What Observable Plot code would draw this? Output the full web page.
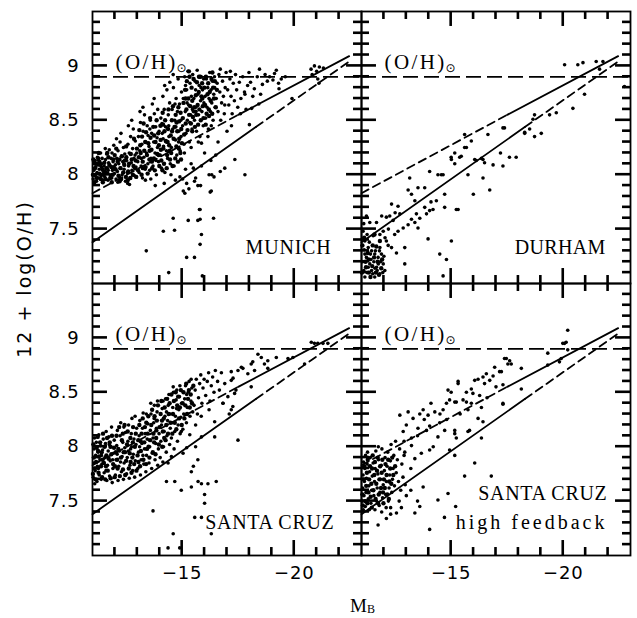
<!DOCTYPE html>
<html><head><meta charset="utf-8">
<script src="https://cdn.jsdelivr.net/npm/d3@7"></script>
<script src="https://cdn.jsdelivr.net/npm/@observablehq/plot@0.6"></script>
<style>
body{margin:0;background:#fff}
#wrap{position:relative;width:637px;height:618px;overflow:hidden}
#ytitle{position:absolute;left:24px;top:279px;transform:translate(-50%,-50%) rotate(-90deg);font-family:"DejaVu Sans";font-size:19px;letter-spacing:2px;white-space:nowrap;line-height:1}
#xtitle{position:absolute;left:350px;top:596px;font-family:"Liberation Serif";font-size:19px;line-height:1;white-space:nowrap}
#xtitle span{font-size:12px;position:relative;top:1px}
</style></head>
<body>
<div id="wrap"></div>
<script>
// ---- axis ticks / labels
const xLabelTicks = [-15, -20];
const xMinorTicks = [-12, -13, -14, -16, -17, -18, -19, -21, -22];
const yLabelTicks = [7.5, 8, 8.5, 9];
const yMinorTicks = [7.1,7.2,7.3,7.4,7.6,7.7,7.8,7.9,8.1,8.2,8.3,8.4,8.6,8.7,8.8,8.9,9.1,9.2,9.3,9.4];
const xDomain = [-11, -23];
const yDomain = [7, 9.5];
const yTitle = "12 + log(O/H)";
const solarLabel = "(O/H)";
const solarOH = 8.9;

// ---- observed relations [M_B, 12+log(O/H)]: dwarf relation (solid, then dashed extrapolation)
const dwarfRelSolid = [[-11, 7.38], [-18.3, 8.44]];
const dwarfRelDashed = [[-18.3, 8.44], [-22.45, 9.04]];
// bright-galaxy relation (dashed extrapolation, then solid)
const brightRelDashed = [[-11, 7.83], [-17.5, 8.55]];
const brightRelSolid = [[-17.5, 8.55], [-22.45, 9.09]];

// ---- model galaxies [M_B, 12+log(O/H)]
const munich = [
[-11.03,7.96],[-11.06,8.04],[-11.08,8.1],[-11.1,7.99],[-11.12,8.13],[-11.15,8.07],[-11.18,7.94],[-11.2,8.02],[-11.22,8.16],[-11.25,8.09],[-11.28,7.97],[-11.3,8.05],[-11.33,8.12],[-11.36,8.2],[-11.38,7.99],[-11.4,8.07],[-11.43,8.15],[-11.46,7.95],[-11.48,8.03],[-11.05,8.12],[-11.13,8.0],[-11.27,8.13],[-11.41,8.1],
[-11.52,8.08],[-11.55,7.98],[-11.58,8.14],[-11.6,8.02],[-11.63,8.19],[-11.66,8.06],[-11.69,7.95],[-11.72,8.11],[-11.75,8.23],[-11.78,8.0],[-11.8,8.08],[-11.83,8.15],[-11.86,7.97],[-11.89,8.04],[-11.92,8.12],[-11.95,8.27],[-11.98,8.01],[-11.57,8.24],[-11.7,8.04],[-11.87,8.2],
[-12.02,8.09],[-12.05,7.96],[-12.08,8.15],[-12.11,8.03],[-12.14,8.22],[-12.17,8.1],[-12.2,7.98],[-12.23,8.3],[-12.26,8.06],[-12.29,8.17],[-12.32,8.0],[-12.35,8.12],[-12.38,8.25],[-12.41,8.05],[-12.44,8.19],[-12.47,7.94],[-12.07,8.33],[-12.27,8.38],[-12.4,8.1],[-12.13,7.93],
[-12.52,8.13],[-12.55,8.02],[-12.58,8.28],[-12.61,8.08],[-12.64,8.2],[-12.67,7.97],[-12.7,8.35],[-12.73,8.11],[-12.76,8.04],[-12.79,8.24],[-12.82,8.42],[-12.85,8.15],[-12.88,7.99],[-12.91,8.31],[-12.94,8.07],[-12.97,8.2],[-12.6,8.45],[-12.75,8.5],[-12.9,8.18],[-12.57,7.92],
[-13.02,8.12],[-13.05,8.35],[-13.08,8.02],[-13.11,8.22],[-13.14,8.48],[-13.17,8.08],[-13.2,8.28],[-13.23,7.97],[-13.26,8.4],[-13.29,8.16],[-13.32,8.55],[-13.35,8.05],[-13.38,8.3],[-13.41,8.2],[-13.44,8.45],[-13.47,8.1],[-13.12,8.58],[-13.25,8.62],[-13.36,7.95],[-13.48,8.36],[-13.18,8.15],
[-13.52,8.26],[-13.55,8.04],[-13.58,8.5],[-13.61,8.15],[-13.64,8.38],[-13.67,8.65],[-13.7,8.08],[-13.73,8.3],[-13.76,8.56],[-13.79,8.2],[-13.82,8.44],[-13.85,8.0],[-13.88,8.34],[-13.91,8.6],[-13.94,8.12],[-13.97,8.4],[-13.6,7.96],[-13.75,8.7],[-13.9,8.25],[-13.56,8.42],[-13.83,8.13],
[-14.02,8.18],[-14.05,8.52],[-14.08,8.06],[-14.11,8.38],[-14.14,8.72],[-14.17,8.26],[-14.2,8.6],[-14.23,8.02],[-14.26,8.44],[-14.29,8.3],[-14.32,8.78],[-14.35,8.15],[-14.38,8.55],[-14.41,8.35],[-14.44,8.66],[-14.47,8.1],[-14.1,8.47],[-14.22,8.82],[-14.3,8.22],[-14.4,8.45],[-14.45,8.85],[-14.15,8.33],
[-14.52,8.25],[-14.55,8.6],[-14.58,8.42],[-14.61,8.8],[-14.64,8.08],[-14.67,8.5],[-14.7,8.32],[-14.73,8.7],[-14.76,8.18],[-14.79,8.58],[-14.82,8.88],[-14.85,8.4],[-14.88,8.65],[-14.91,8.22],[-14.94,8.5],[-14.97,8.76],[-14.6,8.92],[-14.72,8.44],[-14.84,8.3],[-14.95,8.35],[-14.68,8.65],
[-15.02,8.45],[-15.05,8.7],[-15.08,8.28],[-15.11,8.9],[-15.14,8.58],[-15.17,8.38],[-15.2,8.78],[-15.23,8.5],[-15.26,8.95],[-15.29,8.64],[-15.32,8.3],[-15.35,8.84],[-15.38,8.55],[-15.41,8.72],[-15.44,8.42],[-15.47,8.92],[-15.1,8.2],[-15.22,8.66],[-15.34,8.48],[-15.46,8.6],[-15.15,8.82],[-15.4,8.25],
[-15.52,8.7],[-15.55,8.5],[-15.58,8.86],[-15.61,8.62],[-15.64,8.4],[-15.67,8.96],[-15.7,8.74],[-15.73,8.55],[-15.76,8.82],[-15.79,8.35],[-15.82,8.68],[-15.85,8.9],[-15.88,8.58],[-15.91,8.78],[-15.94,8.45],[-15.97,8.66],[-15.6,8.78],[-15.72,8.3],[-15.84,8.8],[-15.96,8.88],[-15.5,8.58],
[-16.02,8.72],[-16.05,8.52],[-16.08,8.88],[-16.11,8.62],[-16.14,8.8],[-16.17,8.42],[-16.2,8.7],[-16.23,8.94],[-16.26,8.58],[-16.29,8.78],[-16.32,8.66],[-16.35,8.86],[-16.38,8.5],[-16.41,8.74],[-16.44,8.9],[-16.47,8.62],[-16.15,8.35],[-16.3,8.45],[-16.45,8.8],
[-16.52,8.7],[-16.56,8.84],[-16.6,8.58],[-16.64,8.92],[-16.68,8.76],[-16.72,8.5],[-16.76,8.66],[-16.8,8.86],[-16.84,8.72],[-16.88,8.56],[-16.92,8.8],[-16.96,8.94],[-16.7,8.97],[-16.9,8.64],
[-17.03,8.78],[-17.08,8.64],[-17.13,8.88],[-17.18,8.72],[-17.23,8.56],[-17.28,8.84],[-17.33,8.68],[-17.38,8.92],[-17.43,8.78],[-17.48,8.62],[-17.15,8.95],
[-17.55,8.85],[-17.62,8.7],[-17.7,8.9],[-17.78,8.76],[-17.85,8.6],[-17.92,8.82],[-17.98,8.94],
[-18.05,8.85],[-18.15,8.72],[-18.22,8.79],[-18.35,8.9],[-18.42,8.65],[-18.5,8.74],[-18.58,8.83],[-18.7,8.92],[-18.8,8.86],[-19.05,8.87],[-19.12,8.93],[-19.3,8.84],[-19.32,8.79],[-19.42,8.88],[-18.45,8.97],[-18.0,8.46],[-18.1,8.61],[-17.8,8.74],[-17.6,8.56],[-19.6,8.9],[-19.9,8.7],[-18.9,8.9],[-19.2,8.96],
[-20.75,8.97],[-20.8,8.92],[-21.0,8.95],[-21.12,8.99],[-21.3,8.98],[-21.05,8.88],[-21.1,8.84],[-20.9,9.0],
[-15.05,7.85],[-15.2,7.92],[-15.55,7.94],[-15.7,7.9],[-16.3,7.85],[-16.32,8.0],[-16.7,8.03],[-17.35,8.14],[-17.8,8.0],[-16.9,8.06],[-15.86,8.08],[-16.28,8.13],[-15.86,8.29],[-15.5,8.06],[-15.6,7.97],[-16.2,8.0],[-16.42,7.98],[-15.82,7.9],[-15.3,7.87],[-15.02,7.96],[-16.25,7.84],[-15.12,7.83],[-15.8,7.68],[-14.9,7.98],[-14.7,7.95],[-15.4,8.1],[-16.0,8.2],[-16.6,8.3],[-17.0,8.4],[-16.5,8.18],[-17.2,8.45],[-14.2,7.92],[-13.8,7.9],[-12.65,7.91],[-14.5,8.0],[-15.15,8.05],
[-13.4,7.3],[-14.16,7.48],[-14.4,7.1],[-14.66,7.49],[-14.6,7.6],[-15.2,7.24],[-15.27,7.58],[-15.55,7.24],[-15.77,7.68],[-15.8,7.59],[-15.86,7.45],[-15.8,7.36],[-15.9,7.07],[-16.4,7.6],[-15.7,7.58]
];
const munichCore = [
[-11.02,8.0],[-11.11,8.06],[-11.19,7.97],[-11.04,8.14],[-11.31,8.01],[-11.26,8.15],[-11.44,8.05],[-11.37,7.96],[-11.53,8.11],[-11.49,8.0],[-11.62,8.06],[-11.58,7.96],[-11.71,8.16],[-11.67,8.01],[-11.84,8.07],[-11.79,7.97],[-11.93,8.14],[-11.9,8.0],[-12.03,8.05],[-11.99,8.18],[-12.16,7.99],[-12.12,8.12],[-12.24,8.06],[-12.31,8.17],[-12.28,7.96],[-12.42,8.09],[-12.37,8.02],[-12.51,8.16],[-12.49,7.98],[-12.63,8.1],[-12.59,8.03],[-12.71,8.19],[-12.69,7.97],[-12.83,8.08],[-12.8,8.0],[-12.93,8.13],[-12.98,8.24],[-11.15,8.1],[-11.35,8.09],[-11.55,8.03],[-11.75,8.09],[-11.95,8.07],[-12.2,8.14],[-12.45,8.13],[-12.75,8.14],[-12.9,8.06],[-11.08,7.93],[-11.46,7.93],[-11.86,7.93],[-12.21,7.94],[-12.57,7.95],[-12.95,7.98],[-11.28,8.2],[-11.66,8.2],[-12.06,8.24],[-12.5,8.26],[-12.85,8.33],
[-13.03,8.04],[-13.07,8.16],[-13.13,8.27],[-13.09,8.41],[-13.19,8.0],[-13.24,8.12],[-13.21,8.35],[-13.31,8.22],[-13.28,8.47],[-13.37,8.07],[-13.43,8.18],[-13.39,8.39],[-13.49,8.29],[-13.46,8.01],[-13.54,8.14],[-13.59,8.34],[-13.57,8.52],[-13.66,8.06],[-13.63,8.23],[-13.71,8.44],[-13.74,8.15],[-13.81,8.3],[-13.78,8.04],[-13.86,8.5],[-13.89,8.19],[-13.93,8.38],[-13.98,8.08],[-13.96,8.27],[-14.03,8.45],[-14.07,8.13],[-14.04,8.32],[-14.12,8.04],[-14.16,8.24],[-14.13,8.57],[-14.21,8.4],[-14.19,8.1],[-14.27,8.31],[-14.24,8.5],[-14.33,8.18],[-14.31,8.06],[-14.37,8.42],[-14.42,8.27],[-14.39,8.6],[-14.46,8.14],[-14.49,8.36],[-14.54,8.5],[-14.51,8.2],[-14.57,8.08],[-14.62,8.33],[-14.59,8.63],[-14.66,8.44],[-14.69,8.15],[-14.71,8.55],[-14.74,8.26],[-14.78,8.4],[-14.81,8.12],[-14.83,8.62],[-14.87,8.33],[-14.86,8.49],[-14.92,8.2],[-14.93,8.57],[-14.96,8.42],[-14.99,8.29],[-13.15,8.2],[-13.35,8.3],[-13.55,8.22],[-13.75,8.36],[-13.95,8.18],[-14.15,8.46],[-14.35,8.3],[-14.55,8.4],[-14.75,8.48],[-14.95,8.14],[-13.25,8.06],[-13.65,8.12],[-14.05,8.23],[-14.45,8.22],[-14.85,8.24],
[-15.03,8.52],[-15.06,8.66],[-15.09,8.37],[-15.13,8.78],[-15.16,8.47],[-15.19,8.6],[-15.21,8.86],[-15.24,8.41],[-15.27,8.7],[-15.31,8.55],[-15.33,8.9],[-15.36,8.63],[-15.39,8.47],[-15.42,8.8],[-15.45,8.68],[-15.48,8.53],[-15.51,8.88],[-15.54,8.62],[-15.57,8.44],[-15.61,8.73],[-15.63,8.55],[-15.66,8.85],[-15.69,8.64],[-15.71,8.46],[-15.74,8.76],[-15.77,8.6],[-15.81,8.9],[-15.83,8.5],[-15.86,8.72],[-15.89,8.84],[-15.92,8.63],[-15.95,8.52],[-15.99,8.8],[-16.02,8.64],[-16.06,8.9],[-16.09,8.56],[-16.13,8.74],[-16.16,8.84],[-16.19,8.6],[-16.23,8.76],[-16.27,8.68],[-16.31,8.88],[-16.34,8.56],[-16.38,8.8],[-16.42,8.7],[-16.46,8.86],[-16.5,8.62],[-15.15,8.7],[-15.45,8.4],[-15.75,8.9],[-16.05,8.46],[-16.35,8.94],[-15.3,8.95],[-15.6,8.58],[-15.9,8.7],[-16.2,8.54],[-16.55,8.78]
];
const durham = [
[-11.07,7.48],[-11.15,7.39],[-11.3,7.33],[-11.22,7.24],[-11.37,7.18],[-11.45,7.12],[-11.67,7.15],[-11.82,7.09],[-11.59,7.06],[-11.97,7.18],[-11.3,7.15],[-11.15,7.27],[-11.52,7.44],[-11.74,7.24],[-11.89,7.27],[-12.04,7.12],[-11.15,7.06],[-11.4,7.27],[-11.55,7.2],[-11.75,7.18],[-11.12,7.31],[-11.85,7.2],[-11.25,7.1],[-11.5,7.09],[-11.95,7.1],[-11.62,7.3],[-11.05,7.2],[-11.35,7.38],[-11.45,7.3],[-11.7,7.12],[-11.1,7.12],[-11.6,7.14],[-11.8,7.3],[-12.0,7.25],[-11.25,7.45],[-11.42,7.22],
[-11.37,7.56],[-11.67,7.56],[-12.11,7.61],[-12.26,7.62],[-12.34,7.73],[-12.63,7.71],[-12.71,7.64],[-12.41,7.58],[-11.82,7.45],[-11.97,7.48],[-12.11,7.39],[-12.48,7.45],[-12.63,7.48],[-12.86,7.51],[-12.93,7.33],[-12.34,7.33],[-12.56,7.28],[-12.93,7.18],[-11.59,7.27],[-11.82,7.33],[-12.19,7.35],[-11.22,7.62],[-11.1,7.55],[-12.2,7.5],[-11.9,7.62],[-12.5,7.65],[-12.05,7.42],
[-13.08,7.86],[-13.23,7.82],[-13.15,7.97],[-13.52,7.88],[-13.82,7.88],[-13.38,7.76],[-14.04,8.03],[-14.41,8.0],[-14.64,8.0],[-13.9,7.64],[-14.19,7.68],[-14.34,7.76],[-14.71,7.7],[-15.23,7.68],[-14.04,7.67],[-13.82,7.7],[-13.45,7.64],[-13.23,7.59],[-13.97,7.41],[-13.52,7.51],[-13.08,7.54],[-13.38,7.56],[-14.49,7.27],[-14.79,7.22],[-15.01,7.39],[-14.64,7.07],[-13.6,7.6],[-14.1,7.75],
[-15.01,8.14],[-15.38,8.16],[-15.6,8.25],[-15.16,8.2],[-15.9,8.31],[-15.75,8.0],[-16.05,8.14],[-16.49,8.11],[-16.87,8.09],[-16.64,8.37],[-16.35,8.15],[-16.72,7.86],[-15.99,7.82],[-17.31,8.43],[-17.6,8.16],[-17.9,8.16],[-17.31,8.08],[-18.28,8.38],[-18.65,8.51],[-18.72,8.55],[-18.5,8.42],[-19.02,8.38],[-18.72,8.35],[-19.39,8.55],[-19.69,8.57],[-20.43,8.61],[-20.95,8.74],[-20.06,9.01],[-20.65,9.01],[-20.88,9.03],[-21.47,9.04],[-21.77,9.04],[-22.73,8.81],[-21.62,8.97],[-15.6,8.37],[-14.56,8.0],[-14.71,7.82],[-15.31,7.68],[-15.0,8.16],[-15.45,8.17],[-15.16,8.1],[-16.12,8.13],[-16.42,8.14],[-16.42,7.97],[-17.2,8.2],[-17.38,8.43],[-18.28,8.39],[-15.68,8.25]
];
const durhamCore = [
[-11.04,7.35],[-11.18,7.2],[-11.28,7.28],[-11.33,7.1],[-11.48,7.16],[-11.56,7.24],[-11.64,7.1],[-11.72,7.2],[-11.78,7.08],[-11.88,7.14],[-11.92,7.22],[-11.2,7.15],[-11.4,7.06],[-11.12,7.42],[-11.5,7.35],[-11.32,7.22],[-11.66,7.34],[-11.02,7.1],[-11.82,7.39],[-11.58,7.45]
];
const santaCruz = [
[-11.03,7.72],[-11.05,7.85],[-11.07,7.98],[-11.09,8.08],[-11.12,7.78],[-11.14,7.92],[-11.17,8.04],[-11.2,7.68],[-11.22,7.82],[-11.25,7.95],[-11.28,8.11],[-11.3,7.74],[-11.33,7.88],[-11.36,8.01],[-11.39,7.7],[-11.42,7.84],[-11.45,7.97],[-11.48,8.07],[-11.1,7.66],[-11.26,7.8],[-11.4,7.92],
[-11.52,7.76],[-11.55,7.9],[-11.58,8.03],[-11.61,8.14],[-11.64,7.69],[-11.67,7.83],[-11.7,7.96],[-11.73,8.09],[-11.76,7.73],[-11.79,7.87],[-11.82,8.0],[-11.85,8.18],[-11.88,7.67],[-11.91,7.8],[-11.94,7.94],[-11.97,8.06],[-11.6,7.78],[-11.75,8.02],[-11.9,7.88],
[-12.02,7.74],[-12.05,7.88],[-12.08,8.01],[-12.11,8.15],[-12.14,7.69],[-12.17,7.82],[-12.2,7.96],[-12.23,8.1],[-12.26,8.22],[-12.29,7.77],[-12.32,7.91],[-12.35,8.04],[-12.38,7.7],[-12.41,7.85],[-12.44,7.99],[-12.47,8.13],[-12.1,7.93],[-12.25,7.86],[-12.4,8.18],
[-12.52,7.75],[-12.55,7.9],[-12.58,8.05],[-12.61,8.2],[-12.64,7.71],[-12.67,7.83],[-12.7,7.98],[-12.73,8.12],[-12.76,8.26],[-12.79,7.78],[-12.82,7.93],[-12.85,8.07],[-12.88,7.72],[-12.91,7.87],[-12.94,8.02],[-12.97,8.17],[-12.6,7.96],[-12.75,8.0],[-12.9,8.28],
[-13.02,7.8],[-13.05,7.95],[-13.08,8.1],[-13.11,8.24],[-13.14,7.74],[-13.17,7.88],[-13.2,8.03],[-13.23,8.17],[-13.26,8.31],[-13.29,7.84],[-13.32,7.98],[-13.35,8.12],[-13.38,7.77],[-13.41,7.92],[-13.44,8.07],[-13.47,8.21],[-13.1,8.0],[-13.25,7.92],[-13.4,8.3],
[-13.52,7.85],[-13.55,8.0],[-13.58,8.15],[-13.61,8.3],[-13.64,7.8],[-13.67,7.94],[-13.7,8.08],[-13.73,8.22],[-13.76,8.38],[-13.79,7.88],[-13.82,8.03],[-13.85,8.17],[-13.88,8.32],[-13.91,7.83],[-13.94,7.98],[-13.97,8.12],[-13.6,8.4],[-13.75,8.26],[-13.9,8.42],
[-14.02,7.9],[-14.05,8.05],[-14.08,8.2],[-14.11,8.35],[-14.14,7.86],[-14.17,8.0],[-14.2,8.14],[-14.23,8.28],[-14.26,8.44],[-14.29,7.95],[-14.32,8.1],[-14.35,8.24],[-14.38,8.38],[-14.41,8.48],[-14.44,8.02],[-14.47,8.17],[-14.15,8.42],[-14.3,8.32],[-14.45,8.3],
[-14.52,8.08],[-14.55,8.22],[-14.58,8.36],[-14.61,8.5],[-14.64,7.98],[-14.67,8.14],[-14.7,8.28],[-14.73,8.43],[-14.76,8.52],[-14.79,8.05],[-14.82,8.2],[-14.85,8.34],[-14.88,8.46],[-14.91,8.12],[-14.94,8.27],[-14.97,8.4],[-14.6,8.55],[-14.75,8.35],[-14.9,8.56],
[-15.03,8.16],[-15.07,8.3],[-15.11,8.44],[-15.15,8.56],[-15.19,8.22],[-15.23,8.36],[-15.27,8.5],[-15.31,8.6],[-15.35,8.28],[-15.39,8.42],[-15.43,8.54],[-15.47,8.32],[-15.2,8.48],[-15.4,8.62],
[-15.53,8.38],[-15.58,8.52],[-15.63,8.62],[-15.68,8.3],[-15.73,8.45],[-15.78,8.58],[-15.83,8.66],[-15.88,8.4],[-15.93,8.54],[-15.98,8.62],[-15.6,8.2],[-15.85,8.28],
[-16.05,8.47],[-16.12,8.6],[-16.18,8.68],[-16.24,8.42],[-16.3,8.56],[-16.36,8.64],[-16.42,8.5],[-16.48,8.7],[-16.2,8.34],
[-16.58,8.6],[-16.66,8.52],[-16.75,8.68],[-16.82,8.4],[-16.9,8.58],
[-17.04,8.46],[-17.19,8.34],[-17.34,8.49],[-17.19,8.61],[-17.19,8.69],[-17.49,8.7],[-17.64,8.73],[-17.93,8.67],[-18.08,8.76],[-18.38,8.85],[-18.53,8.82],[-18.82,8.79],[-18.82,8.72],[-19.2,8.82],[-19.72,8.81],[-19.94,8.82],[-20.46,8.76],[-20.76,8.96],[-20.9,8.95],[-21.05,8.95],[-21.28,8.95],[-21.5,8.95],[-18.67,8.76],[-18.15,8.78],[-18.23,8.7],[-17.71,8.72],[-17.27,8.63],[-18.08,8.55],[-17.4,8.52],[-17.26,8.37],[-16.45,8.23],[-16.82,8.4],[-17.1,8.3],
[-13.7,7.41],[-14.3,7.68],[-14.37,7.85],[-14.67,7.68],[-14.6,7.2],[-14.37,7.07],[-14.89,7.07],[-14.96,7.6],[-15.41,7.63],[-15.71,7.68],[-15.86,7.66],[-16.0,7.56],[-16.0,7.48],[-16.15,7.66],[-16.52,7.68],[-15.56,7.35],[-15.86,7.35],[-16.3,7.2],[-15.7,7.88],[-15.41,7.77],[-15.34,8.11],[-14.96,8.14],[-15.04,7.94],[-15.86,8.09],[-16.45,8.09],[-17.49,8.06],[-14.52,7.91],[-15.2,7.99],[-15.6,8.0],[-15.5,7.82]
];
const santaCruzCore = [
[-11.02,7.75],[-11.06,7.9],[-11.04,8.02],[-11.13,7.7],[-11.16,7.86],[-11.19,7.99],[-11.23,8.09],[-11.27,7.76],[-11.29,7.91],[-11.34,8.04],[-11.38,7.82],[-11.43,7.72],[-11.41,7.95],[-11.47,8.12],[-11.51,7.85],[-11.54,8.0],[-11.57,7.7],[-11.62,7.92],[-11.65,8.08],[-11.68,7.78],[-11.72,7.89],[-11.77,8.04],[-11.81,7.71],[-11.84,7.93],[-11.87,8.1],[-11.92,7.84],[-11.96,7.99],[-11.99,7.72],[-12.04,7.95],[-12.07,8.1],[-12.12,7.8],[-12.15,7.98],[-12.19,8.18],[-12.22,7.73],[-12.27,7.9],[-12.31,8.06],[-12.36,7.79],[-12.39,7.95],[-12.43,8.2],[-12.46,7.74],[-12.5,7.87],[-12.54,8.02],[-12.57,8.14],[-12.62,7.8],[-12.66,7.94],[-12.69,8.08],[-12.74,7.76],[-12.78,7.9],[-12.81,8.18],[-12.86,7.84],[-12.89,8.0],[-12.93,8.12],[-12.96,7.78],
[-13.01,7.92],[-13.04,8.06],[-13.09,8.2],[-13.12,7.82],[-13.16,7.96],[-13.19,8.12],[-13.24,8.26],[-13.27,7.88],[-13.31,8.04],[-13.34,8.18],[-13.39,7.84],[-13.43,7.98],[-13.46,8.12],[-13.49,8.28],[-13.54,7.9],[-13.57,8.06],[-13.62,8.2],[-13.66,8.34],[-13.69,7.95],[-13.72,8.12],[-13.77,8.28],[-13.81,7.93],[-13.84,8.08],[-13.87,8.24],[-13.92,8.38],[-13.96,8.02],[-13.99,8.18],[-14.04,8.3],[-14.07,8.42],[-14.11,8.0],[-14.14,8.14],[-14.18,8.26],[-14.22,8.36],[-14.26,8.06],[-14.29,8.2],[-14.33,8.44],[-14.37,8.12],[-14.4,8.3],[-14.44,8.4],[-14.48,8.22],[-14.52,8.48],[-14.56,8.12],[-14.59,8.3],[-14.63,8.42],[-14.67,8.22],[-14.71,8.5],[-14.74,8.16],[-14.78,8.38],[-14.82,8.46],[-14.86,8.26],[-14.9,8.36],[-14.94,8.52],[-14.98,8.2],[-15.02,8.4],[-15.06,8.5],[-15.1,8.26],[-15.14,8.38],[-15.18,8.58],[-15.22,8.3],[-15.26,8.44],[-15.3,8.52],[-15.34,8.36],[-15.38,8.48],[-15.44,8.4],[-15.5,8.56],
[-11.1,7.8],[-11.45,7.88],[-11.8,8.0],[-12.1,7.88],[-12.45,7.95],[-12.8,8.04],[-13.15,8.05],[-13.5,8.0],[-13.85,8.15],[-14.2,8.08],[-11.25,7.96],[-11.6,7.82],[-12.0,7.82],[-12.35,8.12],[-12.7,7.86],[-13.05,7.86],[-13.4,8.22],[-13.75,8.04],[-14.1,8.24]
];
const highFeedback = [
[-11.03,7.5],[-11.05,7.62],[-11.07,7.74],[-11.09,7.86],[-11.11,7.55],[-11.13,7.68],[-11.15,7.8],[-11.17,7.45],[-11.2,7.58],[-11.22,7.71],[-11.25,7.84],[-11.27,7.95],[-11.3,7.52],[-11.33,7.64],[-11.36,7.77],[-11.39,7.9],[-11.42,7.48],[-11.45,7.6],[-11.48,7.73],[-11.08,7.42],[-11.18,7.92],[-11.35,7.42],
[-11.52,7.85],[-11.55,7.55],[-11.58,7.68],[-11.61,7.8],[-11.64,7.96],[-11.67,7.5],[-11.7,7.62],[-11.73,7.75],[-11.76,7.88],[-11.79,7.46],[-11.82,7.58],[-11.85,7.7],[-11.88,7.83],[-11.91,7.98],[-11.94,7.53],[-11.97,7.65],[-11.6,7.42],[-11.75,8.0],[-11.9,7.4],
[-12.02,7.78],[-12.05,7.9],[-12.08,7.56],[-12.11,7.68],[-12.14,7.82],[-12.17,7.95],[-12.2,7.5],[-12.23,7.62],[-12.26,7.74],[-12.29,7.87],[-12.32,8.02],[-12.35,7.58],[-12.38,7.7],[-12.41,7.8],[-12.44,7.92],[-12.47,7.64],[-12.1,7.44],[-12.3,7.44],
[-12.55,7.76],[-12.6,7.88],[-12.65,7.68],[-12.7,7.98],[-12.75,7.6],[-12.8,7.84],[-12.85,7.72],[-12.9,7.92],[-12.52,8.05],[-12.68,7.5],[-12.95,7.65],
[-12.71,8.29],[-13.08,8.32],[-13.3,8.26],[-12.86,8.14],[-13.23,8.08],[-13.52,8.17],[-13.75,8.34],[-13.97,8.29],[-14.04,8.19],[-14.27,8.32],[-14.49,8.22],[-14.86,8.52],[-14.79,8.4],[-14.93,8.43],[-15.16,8.41],[-15.31,8.6],[-15.53,8.43],[-15.68,8.5],[-15.75,8.34],[-15.9,8.53],[-16.05,8.61],[-16.2,8.62],[-16.27,8.47],[-16.42,8.64],[-16.49,8.58],[-16.87,8.65],[-16.94,8.73],[-17.16,8.69],[-17.31,8.57],[-17.46,8.81],[-17.61,8.79],[-17.68,8.76],[-18.13,8.72],[-19.31,8.86],[-19.98,8.95],[-20.13,8.96],[-20.2,9.07],[-19.31,8.75],[-19.91,8.81],[-20.06,8.95],[-20.2,8.89],[-19.83,8.78],
[-16.2,8.26],[-16.35,8.36],[-15.75,8.14],[-15.16,8.12],[-14.41,8.09],[-14.04,7.97],[-13.67,7.94],[-13.23,8.01],[-13.38,7.89],[-12.93,7.95],[-14.64,8.34],[-14.71,8.15],[-15.23,8.41],[-15.31,8.58],[-15.68,8.41],[-15.97,8.49],[-16.57,8.67],[-16.72,8.61],[-17.24,8.69],[-17.38,8.81],[-17.53,8.76],[-18.13,8.53],[-17.31,8.39],[-16.42,8.23],[-16.35,8.08],[-15.82,8.15],[-15.16,8.15],[-15.23,8.08],[-14.93,7.97],[-15.16,7.92],[-16.05,7.85],[-15.6,7.73],[-16.79,7.73],[-17.31,8.4],
[-13.0,8.2],[-13.5,8.1],[-13.9,8.15],[-14.2,8.0],[-14.5,8.3],[-13.2,7.8],[-13.8,8.25],[-12.9,8.05],[-13.6,8.3],[-14.1,8.4],[-14.8,8.25],[-15.0,8.5],[-15.4,8.3],[-15.9,8.4],[-16.6,8.45],[-17.0,8.55],
[-13.38,7.39],[-14.04,7.24],[-14.41,7.51],[-14.86,7.57],[-13.75,7.63],[-13.5,7.5],[-13.2,7.6],[-12.78,7.44],[-12.56,7.39],[-12.3,7.38],[-12.11,7.34],[-11.74,7.28],[-13.0,7.55],[-13.6,7.45],[-15.2,7.45],[-14.7,7.35]
];
const highFeedbackCore = [
[-11.04,7.56],[-11.1,7.7],[-11.12,7.82],[-11.16,7.5],[-11.21,7.64],[-11.24,7.76],[-11.28,7.88],[-11.31,7.58],[-11.34,7.7],[-11.38,7.82],[-11.41,7.54],[-11.44,7.66],[-11.47,7.8],[-11.5,7.92],[-11.53,7.6],[-11.57,7.74],[-11.6,7.86],[-11.63,7.52],[-11.66,7.66],[-11.69,7.78],[-11.72,7.9],[-11.77,7.56],[-11.8,7.7],[-11.83,7.82],[-11.87,7.62],[-11.9,7.76],[-11.93,7.88],[-11.96,7.58],[-12.0,7.7],[-12.04,7.62],[-12.07,7.84],[-12.12,7.74],[-12.15,7.56],[-12.19,7.88],[-12.24,7.68],[-12.28,7.8],[-12.33,7.66],[-12.37,7.9],[-12.42,7.74],[-12.5,7.82],[-11.06,7.46],[-11.26,7.48],[-11.46,7.44],[-11.74,7.48],[-11.98,7.48],[-12.22,7.52]
];

const panelCols = ["L", "R"];
const panelRows = ["T", "B"];
const panels = [
  {col: "L", row: "T", pts: munich, core: munichCore},
  {col: "R", row: "T", pts: durham, core: durhamCore},
  {col: "L", row: "B", pts: santaCruz, core: santaCruzCore},
  {col: "R", row: "B", pts: highFeedback, core: highFeedbackCore}
];
const toRows = key => panels.flatMap(p => p[key].map(([M, OH]) => ({M, OH, col: p.col, row: p.row})));
const galaxies = toRows("pts");
const coreGalaxies = toRows("core");

const W = 637, H = 618, mL = 91, mR = 7, mT = 10, mB = 63;
const FW = (W - mL - mR) / 2, FH = (H - mT - mB) / 2;
const kx = FW / Math.abs(xDomain[1] - xDomain[0]), ky = FH / (yDomain[1] - yDomain[0]);
const sx = Math.sign(xDomain[1] - xDomain[0]);
const major = 15, minor = 8, half = 1.3;   // tick length and half-thickness, px
const serif = "Liberation Serif";

// inward ticks on all four sides of every panel, as thin filled bars (one row per tick)
const tickBars = [];
for (const [ticks, len] of [[xLabelTicks, major], [xMinorTicks, minor]]) {
  for (const t of ticks) {
    tickBars.push({x1: t - sx * half / kx, x2: t + sx * half / kx, y1: yDomain[0], y2: yDomain[0] + len / ky});
    tickBars.push({x1: t - sx * half / kx, x2: t + sx * half / kx, y1: yDomain[1] - len / ky, y2: yDomain[1]});
  }
}
for (const [ticks, len] of [[yLabelTicks, major], [yMinorTicks, minor]]) {
  for (const t of ticks) {
    tickBars.push({x1: xDomain[0], x2: xDomain[0] + sx * len / kx, y1: t - half / ky, y2: t + half / ky});
    tickBars.push({x1: xDomain[1] - sx * len / kx, x2: xDomain[1], y1: t - half / ky, y2: t + half / ky});
  }
}

const lab = (t, col, row, dx, dy) => Plot.text([{t, col, row}], {
  fx: "col", fy: "row", text: "t", frameAnchor: "bottom-right", textAnchor: "end", lineAnchor: "middle",
  dx, dy, fontFamily: serif, fontSize: 20, fill: "black"
});

const chart = Plot.plot({
  width: W, height: H, marginLeft: mL, marginRight: mR, marginTop: mT, marginBottom: mB,
  x: {domain: xDomain},
  y: {domain: yDomain},
  fx: {domain: panelCols, padding: 0, axis: null},
  fy: {domain: panelRows, padding: 0, axis: null},
  marks: [
    Plot.dot(galaxies, {x: "M", y: "OH", fx: "col", fy: "row", r: 1.8, fill: "black"}),
    Plot.dot(coreGalaxies, {x: "M", y: "OH", fx: "col", fy: "row", r: 2.2, fill: "black"}),
    Plot.ruleY([solarOH], {stroke: "black", strokeDasharray: "15,6", strokeWidth: 1.8}),
    Plot.line(dwarfRelSolid, {x: d => d[0], y: d => d[1], stroke: "black", strokeWidth: 1.8}),
    Plot.line(dwarfRelDashed, {x: d => d[0], y: d => d[1], stroke: "black", strokeWidth: 1.8, strokeDasharray: "8,5"}),
    Plot.line(brightRelDashed, {x: d => d[0], y: d => d[1], stroke: "black", strokeWidth: 1.8, strokeDasharray: "8,5"}),
    Plot.line(brightRelSolid, {x: d => d[0], y: d => d[1], stroke: "black", strokeWidth: 1.8}),
    Plot.rect(tickBars, {x1: "x1", x2: "x2", y1: "y1", y2: "y2", fill: "black"}),
    Plot.frame({stroke: "black", strokeWidth: 1.8}),
    Plot.axisY(yLabelTicks, {anchor: "left", tickSize: 0, tickPadding: 13, fontSize: 18, fontFamily: "DejaVu Sans", label: null,
      tickFormat: d => String(d)}),
    Plot.axisX(xLabelTicks, {anchor: "bottom", tickSize: 0, tickPadding: 11, fontSize: 18, fontFamily: "DejaVu Sans", label: null,
      tickFormat: d => (d < 0 ? "\u2212" + (-d) : String(d))}),
    Plot.text([solarLabel], {frameAnchor: "top-left", dx: 23, dy: 51, textAnchor: "start", lineAnchor: "middle",
      fontFamily: serif, fontSize: 21, fill: "black"}),
    Plot.text(["\u2299"], {frameAnchor: "top-left", dx: 89, dy: 57, textAnchor: "middle", lineAnchor: "middle",
      fontFamily: "DejaVu Sans", fontSize: 12, fill: "black"}),
    lab("MUNICH", "L", "T", -30, -36),
    lab("DURHAM", "R", "T", -25, -36),
    lab("SANTA CRUZ", "L", "B", -27, -33),
    lab("SANTA CRUZ", "R", "B", -23, -62),
    lab("high feedback", "R", "B", -23, -33)
  ]
});

const wrap = document.getElementById("wrap");
wrap.appendChild(chart);
const spacing = {"(O/H)": "2.4px", "high feedback": "3px", "MUNICH": "0.8px", "DURHAM": "0.3px", "SANTA CRUZ": "0.7px"};
chart.querySelectorAll("text").forEach(t => {
  const s = t.textContent.trim();
  if (spacing[s]) t.style.letterSpacing = spacing[s];
  else if (/^[\u2212\d.]+$/.test(s)) t.style.letterSpacing = "0.8px";
});
const yt = document.createElement("div"); yt.id = "ytitle"; yt.textContent = yTitle; wrap.appendChild(yt);
const xt = document.createElement("div"); xt.id = "xtitle"; xt.innerHTML = "M<span>B</span>"; wrap.appendChild(xt);
</script>
</body></html>
